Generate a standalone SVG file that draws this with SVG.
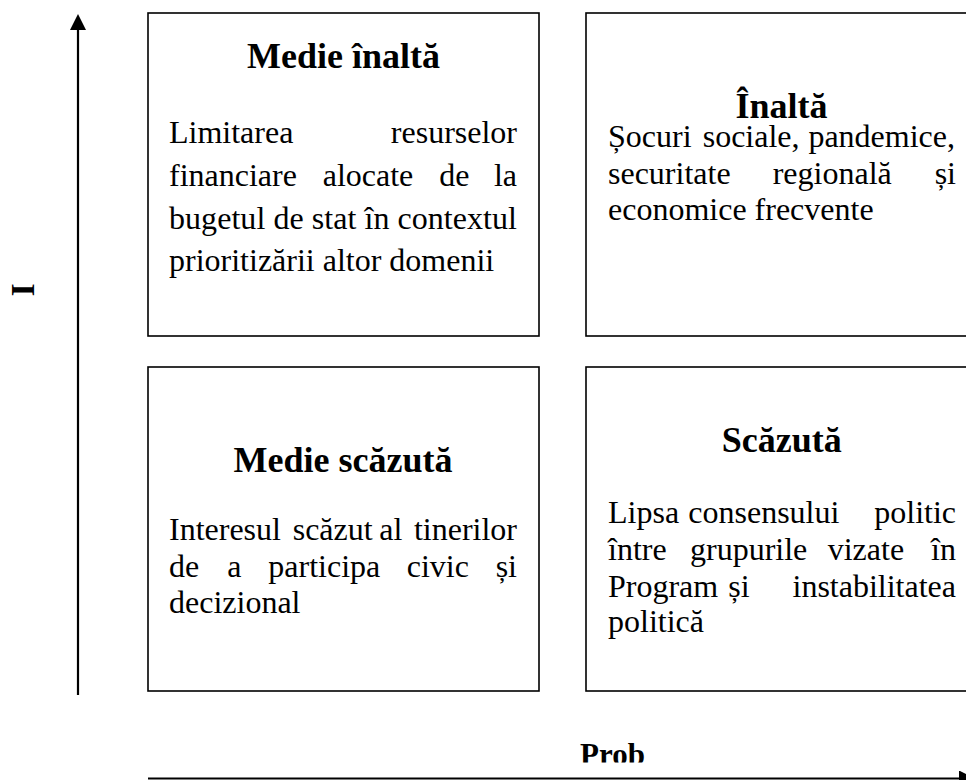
<svg xmlns="http://www.w3.org/2000/svg" width="966" height="780" viewBox="0 0 966 780">
<style>
  .box { fill: #fff; stroke: #000; stroke-width: 1.6; }
  .ttl { font-family: "Liberation Serif", "Times New Roman", serif; font-weight: bold; font-size: 36px; fill: #000; text-anchor: middle; }
  .txt { font-family: "Liberation Serif", "Times New Roman", serif; font-size: 32px; fill: #000; }
  .end { text-anchor: end; }
  .axis { stroke: #000; stroke-width: 2.2; fill: none; }
  .lbl { font-family: "Liberation Serif", "Times New Roman", serif; font-weight: bold; fill: #000; }
</style>
<defs>
  <marker id="arr" viewBox="0 0 16 16" refX="0" refY="8" markerWidth="16" markerHeight="16" markerUnits="userSpaceOnUse" orient="auto">
    <path d="M0,0 L16,8 L0,16 Z" fill="#000"/>
  </marker>
  <clipPath id="probclip"><rect x="500" y="700" width="300" height="62.5"/></clipPath>
</defs>
<rect width="966" height="780" fill="#fff"/>

<g id="connectors">
  <line class="axis" x1="78" y1="695" x2="78" y2="30" marker-end="url(#arr)"/>
  <line class="axis" x1="148" y1="778.5" x2="959" y2="778.5" marker-end="url(#arr)"/>
</g>

<g id="axis-labels">
  <text class="lbl" font-size="34" text-anchor="middle" transform="translate(34,290) rotate(-90)">I</text>
  <text class="lbl" font-size="31" x="580" y="765" clip-path="url(#probclip)">Prob</text>
</g>

<g id="medie-inalta">
  <rect class="box" x="148" y="13" width="391" height="323"/>
  <text class="ttl" x="343.5" y="68.3">Medie înaltă</text>
  <text class="txt" x="169" y="143.3">Limitarea</text>
  <text class="txt end" x="517" y="143.3">resurselor</text>
  <text class="txt" x="169" y="186">financiare</text>
  <text class="txt" x="322.7" y="186">alocate</text>
  <text class="txt" x="439.3" y="186">de</text>
  <text class="txt end" x="517" y="186">la</text>
  <text class="txt" x="169" y="228.5" textLength="348" lengthAdjust="spacing">bugetul de stat în contextul</text>
  <text class="txt" x="169" y="270.5">prioritizării altor domenii</text>
</g>

<g id="inalta">
  <rect class="box" x="586" y="13" width="391" height="323"/>
  <text class="ttl" x="781.5" y="118">Înaltă</text>
  <text class="txt" x="608" y="147">Șocuri</text>
  <text class="txt" x="702.7" y="147">sociale,</text>
  <text class="txt end" x="955" y="147">pandemice,</text>
  <text class="txt" x="608" y="183.5">securitate</text>
  <text class="txt" x="772.7" y="183.5">regională</text>
  <text class="txt end" x="956" y="183.5">și</text>
  <text class="txt" x="608" y="220">economice frecvente</text>
</g>

<g id="medie-scazuta">
  <rect class="box" x="148" y="367" width="391" height="324"/>
  <text class="ttl" x="343" y="471.7">Medie scăzută</text>
  <text class="txt" x="169" y="540">Interesul</text>
  <text class="txt" x="292.7" y="540">scăzut</text>
  <text class="txt" x="379.3" y="540">al</text>
  <text class="txt end" x="517" y="540">tinerilor</text>
  <text class="txt" x="169" y="576.7">de</text>
  <text class="txt" x="227.3" y="576.7">a</text>
  <text class="txt" x="268.3" y="576.7">participa</text>
  <text class="txt" x="406.7" y="576.7">civic</text>
  <text class="txt end" x="517" y="576.7">și</text>
  <text class="txt" x="169" y="613.3">decizional</text>
</g>

<g id="scazuta">
  <rect class="box" x="586" y="367" width="391" height="324"/>
  <text class="ttl" x="781.7" y="451.7">Scăzută</text>
  <text class="txt" x="608" y="523.3">Lipsa</text>
  <text class="txt" x="688.3" y="523.3">consensului</text>
  <text class="txt end" x="956" y="523.3">politic</text>
  <text class="txt" x="608" y="560">între</text>
  <text class="txt" x="690" y="560">grupurile</text>
  <text class="txt" x="827.7" y="560">vizate</text>
  <text class="txt end" x="956" y="560">în</text>
  <text class="txt" x="608" y="596.7">Program</text>
  <text class="txt" x="728.3" y="596.7">și</text>
  <text class="txt end" x="956" y="596.7">instabilitatea</text>
  <text class="txt" x="608" y="631.7">politică</text>
</g>
</svg>
